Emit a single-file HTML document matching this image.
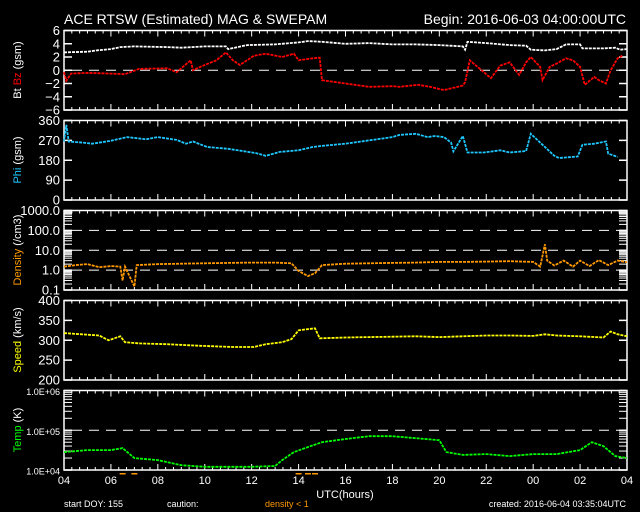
<!DOCTYPE html>
<html><head><meta charset="utf-8"><style>
html,body{margin:0;padding:0;background:#000;}
svg{display:block;font-family:"Liberation Sans",sans-serif;}
</style></head><body>
<svg id="c" width="640" height="512" viewBox="0 0 640 512">
<text x="64" y="24" fill="#fff" font-size="14">ACE RTSW (Estimated) MAG &amp; SWEPAM</text>
<text x="626" y="24" fill="#fff" font-size="14" text-anchor="end">Begin: 2016-06-03 04:00:00UTC</text>
<text x="345" y="498" fill="#fff" font-size="11" text-anchor="middle">UTC(hours)</text>
<text x="64" y="507" fill="#fff" font-size="9">start DOY: 155</text>
<text x="167" y="507" fill="#fff" font-size="9">caution:</text>
<text x="265" y="507" fill="#ff9900" font-size="9">density &lt; 1</text>
<text x="626" y="507" fill="#fff" font-size="9" text-anchor="end">created: 2016-06-04 03:35:04UTC</text>
</svg>
<script>
const xTickLabels=["04","06","08","10","12","14","16","18","20","22","00","02","04"];
const btT=[0,1,1.4,2,2.4,3,4.4,5,6,6.9,7,7.8,9,10,10.4,11,12,13,14,15,16,17,17.1,17.2,18,19,19.7,19.9,20.5,21,21.4,22,22.1,23,23.5,23.7,24];
const btV=[2.7,2.8,3.0,3.2,3.5,3.6,3.5,3.4,3.6,3.6,3.2,3.8,3.9,4.2,4.4,4.3,4.0,4.1,3.9,3.9,3.8,3.6,3.1,4.3,4.1,3.8,3.7,3.1,3.0,3.2,3.9,3.9,3.3,3.3,3.4,3.1,3.2];
const bzT=[0,0.1,0.3,1,2,2.6,3.2,4.4,4.8,5.4,5.5,5.8,6.5,6.9,7.2,7.5,8.1,8.6,9.3,9.8,10,10.6,10.9,11,12,13,14,14.3,15.1,15.6,16.2,17,17.1,17.3,18.2,18.6,19,19.4,19.7,19.9,20.3,20.4,20.7,21,21.4,21.7,22,22.2,22.6,22.8,23.1,23.3,23.6,23.8];
const bzV=[-0.3,-1.6,-0.5,-0.4,-0.5,-0.6,0.2,0.3,-0.3,1.5,0,0.5,1.5,2.7,1.5,0.8,2.2,2.5,2.0,2.5,1.5,1.8,1.9,-1.5,-2.0,-2.5,-2.4,-2.5,-2.2,-2.5,-3.0,-2.3,-1.8,1.5,-1.2,0.7,1.2,-0.7,1.2,2.0,0.5,-1.5,0.5,1.0,1.8,1.5,0.5,-2.2,-1.0,-1.5,-2.0,0,1.8,2.2];
const phiT=[0,0.1,0.2,0.8,1.2,2,2.7,3.5,4,4.8,5.2,5.5,6.1,7,8.2,8.6,9.2,10,10.6,11,12,13,14,14.3,15,15.5,15.8,16.2,16.5,16.6,16.8,17,17.2,17.9,18.6,19,19.7,19.9,20.3,20.9,21.1,21.9,22.1,22.6,23.1,23.2,23.6];
const phiV=[265,340,265,260,255,268,285,275,285,272,255,265,240,232,212,200,218,225,240,245,255,270,285,295,300,285,290,285,260,220,255,290,215,215,225,215,222,300,260,200,190,197,250,255,265,210,195];
const denT=[0,0.5,1,1.5,2,2.4,2.5,2.6,3,3.1,4,5,6,7,8,9,9.7,10,10.4,10.7,11,12,13,14,15,16,17,18,19,20,20.3,20.5,20.6,20.9,21.3,21.7,22,22.4,22.8,23.2,23.6,24];
const denV=[1.5,1.8,2.0,1.4,1.6,1.5,0.3,1.5,0.15,1.8,2.0,2.1,2.2,2.3,2.4,2.4,2.2,0.9,0.5,0.7,1.8,2.1,2.2,2.3,2.4,2.6,2.6,2.7,2.8,2.6,1.5,20,3.0,1.7,3.0,1.5,3.0,1.6,3.2,1.8,3.0,2.5];
const spdT=[0,1.5,1.9,2.4,2.6,3.2,4.4,5.8,7.2,8.1,8.6,9.3,9.7,10,10.7,10.9,12,13,14,15,16,17,18,19,20,20.5,21,22,23,23.3,23.6,24];
const spdV=[318,312,300,310,295,292,290,286,283,283,290,295,303,325,330,305,307,308,309,310,308,310,312,312,311,315,312,310,307,322,315,310];
const tmpT=[0,1,2,2.5,3,4,5,6,8,9,9.3,9.8,10.5,11,12,13,14,15,16,16.3,17,18,19,20,21,22,22.5,23,23.5,24];
const tmpV=[4.45,4.5,4.5,4.55,4.3,4.25,4.12,4.08,4.08,4.1,4.25,4.45,4.6,4.7,4.78,4.85,4.85,4.8,4.75,4.45,4.38,4.4,4.35,4.4,4.4,4.5,4.7,4.6,4.35,4.3];

const NS="http://www.w3.org/2000/svg",svg=document.getElementById('c');
const X0=64,X1=627;
function xs(h){return X0+(X1-X0)*h/24;}
function mk(tag,at,parent){const e=document.createElementNS(NS,tag);for(const k in at)e.setAttribute(k,at[k]);(parent||svg).appendChild(e);return e;}

const panels=[
 {name:'bfield',top:30.5,min:-6,max:6,log:false,ticks:[6,4,2,0,-2,-4,-6],labels:["6","4","2","0","\u22122","\u22124","\u22126"],dash:[0]},
 {name:'phi',top:120.5,min:0,max:360,log:false,ticks:[360,270,180,90,0],labels:["360","270","180","90","0"],dash:[]},
 {name:'density',top:210.5,min:-1,max:3,log:true,ticks:[3,2,1,0,-1],labels:["1000.0","100.0","10.0","1.0","0.1"],dash:[0,1,2]},
 {name:'speed',top:300.5,min:200,max:400,log:false,ticks:[400,350,300,250,200],labels:["400","350","300","250","200"],dash:[]},
 {name:'temp',top:390.5,min:4,max:6,log:true,ticks:[6,5,4],labels:["1.0E+06","1.0E+05","1.0E+04"],dash:[5]}
];
const H=79.5;
panels.forEach(p=>{
 p.ys=v=>{const t=p.log?Math.log10(v):v;return p.top+H-(t-p.min)/(p.max-p.min)*H;};
 p.yr=t=>p.top+H-(t-p.min)/(p.max-p.min)*H;
 const g=mk('g',{});
 
 
 const r=mk('rect',{x:X0,y:p.top,width:X1-X0,height:H,fill:'none',stroke:'#fff','stroke-width':1.5},g);
 
 
 for(let m=0;m<=72;m++){const x=xs(m/3);const L=(m%6===0)?6:3;
  mk('line',{x1:x,x2:x,y1:p.top,y2:p.top+L,stroke:'#fff','stroke-width':1},g);
  mk('line',{x1:x,x2:x,y1:p.top+H,y2:p.top+H-L,stroke:'#fff','stroke-width':1},g);}
 p.ticks.forEach((t,i)=>{const y=p.yr(t);
  mk('line',{x1:X0,x2:X0+8,y1:y,y2:y,stroke:'#fff','stroke-width':1.5},g);
  mk('line',{x1:X1,x2:X1-8,y1:y,y2:y,stroke:'#fff','stroke-width':1.5},g);
  const tx=mk('text',{x:X0-4,y:y+4.5,fill:'#fff','font-size':p.name==='temp'?9:13,'text-anchor':'end'},g);
  tx.textContent=p.labels[i];
  
  });
 if(p.log){for(let d=p.min;d<p.max;d++)for(let k=2;k<10;k++){const y=p.yr(d+Math.log10(k));
  mk('line',{x1:X0,x2:X0+8,y1:y,y2:y,stroke:'#fff','stroke-width':1},g);
  mk('line',{x1:X1,x2:X1-8,y1:y,y2:y,stroke:'#fff','stroke-width':1},g);}}
 p.dash.forEach(t=>{const y=p.yr(t);
  const l=mk('line',{x1:X0+8,x2:X1,y1:y,y2:y,stroke:'#fff','stroke-width':1,'stroke-dasharray':'10 7'},g);
  
  });
});
xTickLabels.forEach((s,i)=>{const t=mk('text',{x:xs(i*2),y:484,fill:'#fff','font-size':11,'text-anchor':'middle'});
 t.textContent=s;
 
 });
function ytitle(cy,parts,name){const t=mk('text',{transform:`translate(21,${cy}) rotate(-90)`,'font-size':11,'text-anchor':'middle'});
 
 
 parts.forEach(([s,c])=>{const ts=mk('tspan',{fill:c},t);ts.textContent=s;});}
ytitle(70,[["Bt ","#fff"],["Bz","#ff0000"],["  (gsm)","#fff"]],'bfield-axis-title');
ytitle(160,[["Phi","#1ec8ff"],["  (gsm)","#fff"]],'phi-axis-title');
ytitle(250,[["Density","#ff9900"],["  (/cm3)","#fff"]],'density-axis-title');
ytitle(340,[["Speed","#ffff00"],["  (km/s)","#fff"]],'speed-axis-title');
ytitle(430,[["Temp","#00ff00"],["  (K)","#fff"]],'temp-axis-title');
function series(p,T,V,color,name,logv){
 const pts=T.map((t,i)=>xs(t).toFixed(1)+','+(logv?p.yr(V[i]):p.ys(V[i])).toFixed(1)).join(' ');
 const pl=mk('polyline',{points:pts,fill:'none',stroke:color,'stroke-width':1.8,'stroke-dasharray':'3 1'});
 
 
}
series(panels[0],btT,btV,'#ffffff','bt-series');
series(panels[0],bzT,bzV,'#ff0000','bz-series');
series(panels[1],phiT,phiV,'#1ec8ff','phi-series');
series(panels[2],denT,denV,'#ff9900','density-series');
series(panels[3],spdT,spdV,'#ffff00','speed-series');
series(panels[4],tmpT,tmpV,'#00ff00','temp-series',true);
denT.forEach((t,i)=>{if(denV[i]<1){const m=mk('rect',{x:xs(t)-3,y:473,width:6,height:1.5,fill:'#ff9900'});
 
 }});
</script>
</body></html>
